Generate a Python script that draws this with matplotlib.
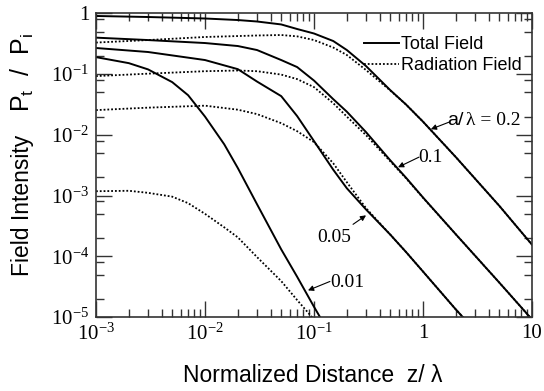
import numpy as np
import matplotlib.pyplot as plt
from matplotlib.ticker import LogLocator, FuncFormatter, NullFormatter

plt.rcParams['font.family'] = ['Liberation Sans', 'DejaVu Sans']

# normalized distance z/lambda at the points
z_02 = [0.001, 0.003, 0.01, 0.02, 0.03, 0.05, 0.07, 0.1, 0.15, 0.2, 0.3, 0.5, 0.7, 1, 2, 5, 10]
total_02 = [0.91, 0.875, 0.827, 0.78, 0.738, 0.66, 0.555, 0.468, 0.352, 0.25, 0.136,
            0.0547, 0.0315, 0.0165, 0.0043, 0.00068, 0.000155]
rad_02 = [0.332, 0.365, 0.41, 0.425, 0.434, 0.442, 0.42, 0.365, 0.275, 0.207, 0.117,
          0.054, 0.0315, 0.0165, 0.0043, 0.00068, 0.000155]

z_01 = [0.001, 0.003, 0.01, 0.02, 0.03, 0.05, 0.07, 0.1, 0.15, 0.2, 0.3, 0.5, 0.7, 1, 2, 5, 10]
total_01 = [0.40, 0.365, 0.326, 0.291, 0.25, 0.171, 0.131, 0.0784, 0.0388, 0.0241, 0.0111,
            0.00382, 0.00196, 0.00093, 0.00023, 3.7e-5, 9.1e-6]
rad_01 = [0.093, 0.102, 0.112, 0.115, 0.112, 0.0985, 0.083, 0.0612, 0.0333, 0.020, 0.0099,
          0.00368, 0.00192, 0.00092, 0.00023, 3.7e-5, 9.1e-6]

z_005 = [0.001, 0.003, 0.01, 0.02, 0.03, 0.05, 0.07, 0.1, 0.15, 0.2, 0.3, 0.5, 0.7, 1, 2, 3]
total_005 = [0.27, 0.232, 0.171, 0.121, 0.0756, 0.0435, 0.0204, 0.0079, 0.00267, 0.00132,
             0.00059, 0.000228, 0.000117, 5.6e-5, 1.33e-5, 6.0e-6]
rad_005 = [0.0256, 0.0281, 0.0303, 0.026, 0.022, 0.0156, 0.0115, 0.0076, 0.00341, 0.00166,
           0.00062, 0.000228, 0.000117, 5.6e-5, 1.33e-5, 6.0e-6]

z_001 = [0.001, 0.002, 0.003, 0.005, 0.007, 0.01, 0.015, 0.02, 0.03, 0.05, 0.07, 0.1, 0.12]
total_001 = [0.191, 0.152, 0.12, 0.074, 0.045, 0.020, 0.007, 0.00284, 0.00072, 0.00013,
             4.6e-5, 1.47e-5, 8.4e-6]
rad_001 = [1.18e-3, 1.2e-3, 1.11e-3, 9.6e-4, 7.5e-4, 5.0e-4, 3.0e-4, 2.05e-4, 9.7e-5, 3.9e-5,
           1.9e-5, 9.1e-6, 6.3e-6]

curves = [(z_02, total_02, rad_02), (z_01, total_01, rad_01),
          (z_005, total_005, rad_005), (z_001, total_001, rad_001)]

fig = plt.figure(figsize=(5.44, 3.91), dpi=100)
ax = fig.add_axes([0.1765, 0.1893, 0.8015, 0.7762])

dots = (0, (1, 1.1))
for i, (zz, tot, rad) in enumerate(curves):
    ax.plot(zz, rad, color='k', lw=1.3, linestyle=dots,
            label='Radiation Field' if i == 0 else None)
    ax.plot(zz, tot, color='k', lw=1.4, label='Total Field' if i == 0 else None)

ax.set_xscale('log')
ax.set_yscale('log')
ax.set_xlim(1e-3, 10)
ax.set_ylim(1e-5, 1)

def fmt(v, pos):
    e = int(round(np.log10(v)))
    if e == 0:
        return '1'
    if e == 1:
        return '10'
    return r'$\mathregular{10^{%d}}$' % e

ax.xaxis.set_major_locator(LogLocator(base=10, numticks=10))
ax.xaxis.set_minor_locator(LogLocator(base=10, subs=np.arange(2, 10), numticks=10))
ax.yaxis.set_major_locator(LogLocator(base=10, numticks=10))
ax.yaxis.set_minor_locator(LogLocator(base=10, subs=(2, 5, 8), numticks=10))
ax.xaxis.set_major_formatter(FuncFormatter(fmt))
ax.yaxis.set_major_formatter(FuncFormatter(fmt))
ax.xaxis.set_minor_formatter(NullFormatter())
ax.yaxis.set_minor_formatter(NullFormatter())

ax.tick_params(which='both', direction='in', top=True, right=True, color='#333333',
               labelfontfamily='Liberation Serif', labelsize=15)
ax.tick_params(which='major', length=11.5, width=1.0)
ax.tick_params(which='minor', length=6, width=1.0)
ax.tick_params(axis='y', pad=5)
ax.tick_params(axis='x', pad=5)
for s in ax.spines.values():
    s.set_color('#333333')
    s.set_linewidth(1.2)

# legend: solid first
h, l = ax.get_legend_handles_labels()
ax.legend(h[::-1], l[::-1], loc='upper right', bbox_to_anchor=(0.977, 0.925),
          frameon=False, fontsize=13, borderpad=0, borderaxespad=0,
          handlelength=1.95, handletextpad=0.1, labelspacing=0.2)

# curve labels with arrows
arrow = dict(arrowstyle='-|>', color='k', lw=0.8, mutation_scale=8, shrinkA=0, shrinkB=0)
ax.annotate('', xy=(1.18, 0.0124), xytext=(1.73, 0.0162), arrowprops=arrow)
ax.text(1.66, 0.0145, 'a/', fontsize=14, va='baseline', ha='left')
ax.text(2.5, 0.0145, 'λ = 0.2', fontsize=14, va='baseline', ha='left',
        family='Liberation Serif')

ax.annotate('', xy=(0.59, 2.93e-3), xytext=(0.918, 4.3e-3), arrowprops=arrow)
ax.text(1.18, 3.55e-3, '0.1', fontsize=14, va='baseline', ha='center',
        family='Liberation Serif')

ax.annotate('', xy=(0.30, 4.73e-4), xytext=(0.228, 3.36e-4), arrowprops=arrow)
ax.text(0.153, 1.7e-4, '0.05', fontsize=14, va='baseline', ha='center',
        family='Liberation Serif')

ax.annotate('', xy=(0.088, 2.74e-5), xytext=(0.14, 3.85e-5), arrowprops=arrow)
ax.text(0.201, 3.07e-5, '0.01', fontsize=14, va='baseline', ha='center',
        family='Liberation Serif')

fig.text(313 / 544, 1 - 382 / 391, 'Normalized Distance  z/ λ', fontsize=16.5,
         ha='center', va='baseline')
fig.text(29.5 / 544, 1 - 205 / 391, 'Field Intensity', fontsize=16.5, rotation=90,
         rotation_mode='anchor', ha='center', va='baseline')
fig.text(29.5 / 544, 1 - 73 / 391,
         r'P$_\mathregular{t}$  /  P$_\mathregular{i}$',
         fontsize=18, rotation=90, rotation_mode='anchor', ha='center', va='baseline')

fig.savefig('out.png', dpi=100)
